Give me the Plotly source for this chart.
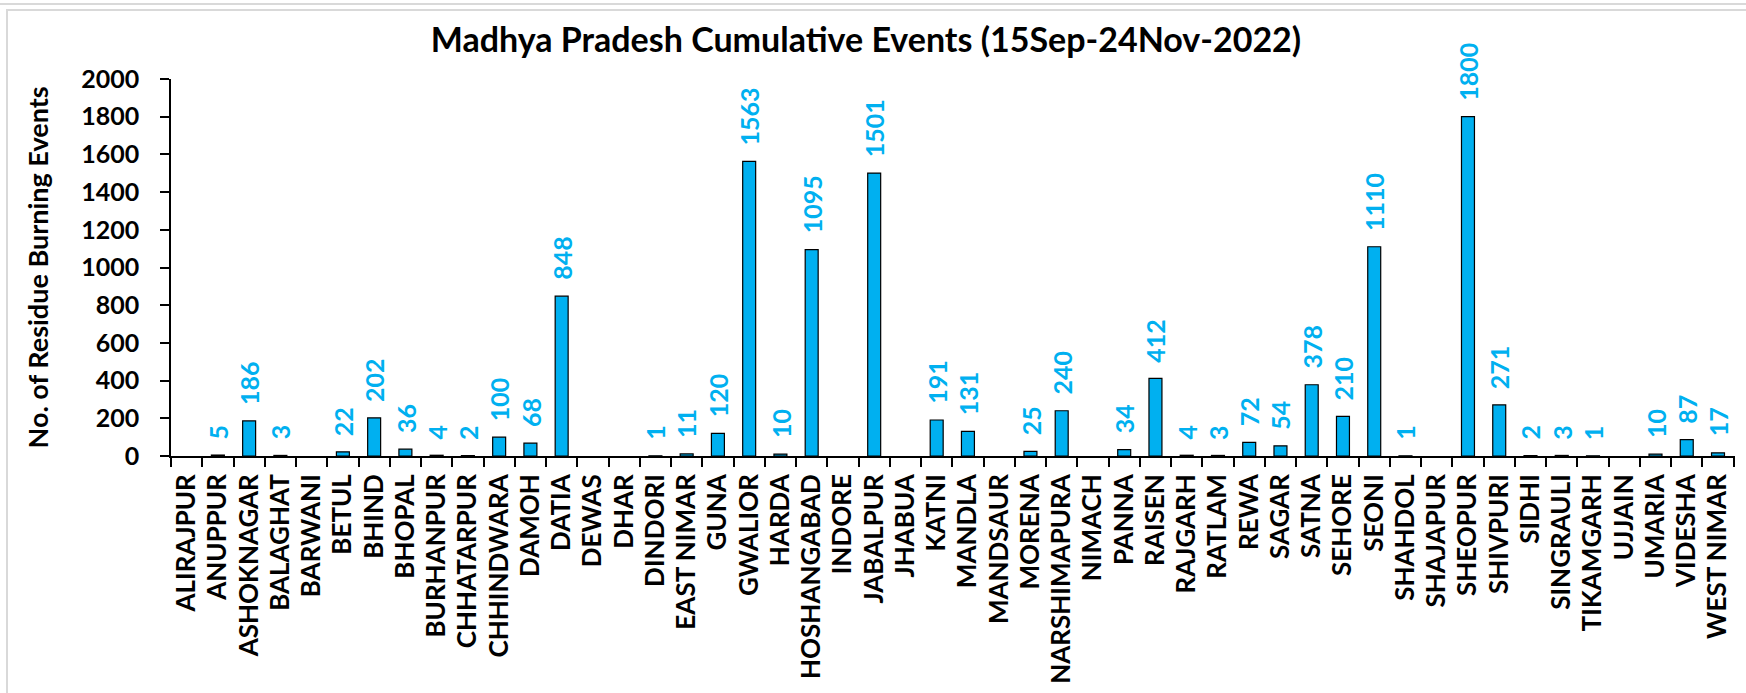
import plotly.graph_objects as go

# District-wise cumulative residue burning events
districts = [
    "ALIRAJPUR", "ANUPPUR", "ASHOKNAGAR", "BALAGHAT", "BARWANI", "BETUL", "BHIND",
    "BHOPAL", "BURHANPUR", "CHHATARPUR", "CHHINDWARA", "DAMOH", "DATIA", "DEWAS",
    "DHAR", "DINDORI", "EAST NIMAR", "GUNA", "GWALIOR", "HARDA", "HOSHANGABAD",
    "INDORE", "JABALPUR", "JHABUA", "KATNI", "MANDLA", "MANDSAUR", "MORENA",
    "NARSHIMAPURA", "NIMACH", "PANNA", "RAISEN", "RAJGARH", "RATLAM", "REWA",
    "SAGAR", "SATNA", "SEHORE", "SEONI", "SHAHDOL", "SHAJAPUR", "SHEOPUR",
    "SHIVPURI", "SIDHI", "SINGRAULI", "TIKAMGARH", "UJJAIN", "UMARIA", "VIDESHA",
    "WEST NIMAR",
]
events = [
    None, 5, 186, 3, None, 22, 202,
    36, 4, 2, 100, 68, 848, None,
    None, 1, 11, 120, 1563, 10, 1095,
    None, 1501, None, 191, 131, None, 25,
    240, None, 34, 412, 4, 3, 72,
    54, 378, 210, 1110, 1, None, 1800,
    271, 2, 3, 1, None, 10, 87,
    17,
]
y_ticks = list(range(0, 2001, 200))

W, H = 1746, 693
L, R, T, B = 171, 11, 79, 237
pw, ph = W - L - R, H - T - B

FONT = "Lato"
BLUE = "#00B0F0"

fig = go.Figure()
fig.add_trace(go.Bar(
    x=districts,
    y=events,
    marker=dict(color=BLUE, line=dict(color="black", width=1.2)),
    hoverinfo="x+y",
))

# value labels above each bar, rotated
annotations = []
for d, v in zip(districts, events):
    if v is None:
        continue
    annotations.append(dict(
        x=d, y=v, xref="x", yref="y",
        text=str(v), showarrow=False, textangle=-90,
        xanchor="center", yanchor="bottom", yshift=14,
        font=dict(family=FONT, size=25, color=BLUE, weight="bold"),
    ))

# y-axis title
annotations.append(dict(
    x=(37 - L) / pw, y=0.5, xref="paper", yref="paper",
    text="No. of Residue Burning Events", showarrow=False, textangle=-90,
    xanchor="center", yanchor="middle",
    font=dict(family=FONT, size=27, color="black", weight="bold"),
))

def px_x(v):
    return (v - L) / pw

def px_y(v):
    return 1 - (v - T) / ph

shapes = [
    # outer chart frame
    dict(type="rect", xref="paper", yref="paper",
         x0=px_x(7), x1=px_x(W + 20), y0=px_y(H + 20), y1=px_y(10),
         line=dict(color="#D9D9D9", width=2), fillcolor="rgba(0,0,0,0)", layer="below"),
    dict(type="line", xref="paper", yref="paper",
         x0=px_x(-5), x1=px_x(W + 5), y0=px_y(4), y1=px_y(4),
         line=dict(color="#D9D9D9", width=2), layer="below"),
]

fig.update_layout(
    width=W, height=H,
    margin=dict(l=L, r=R, t=T, b=B, autoexpand=False),
    paper_bgcolor="white", plot_bgcolor="white",
    bargap=0.585,
    showlegend=False,
    title=dict(
        text="Madhya Pradesh Cumulative Events (15Sep-24Nov-2022)",
        x=866 / W, xanchor="center", xref="container",
        y=1 - 40 / H, yanchor="middle", yref="container",
        font=dict(family=FONT, size=34, color="black", weight="bold"),
    ),
    xaxis=dict(
        type="category",
        tickson="boundaries",
        ticks="outside", ticklen=9, tickwidth=1.5, tickcolor="black",
        showline=True, linecolor="black", linewidth=1.5,
        showgrid=False, zeroline=False,
        tickangle=-90, ticklabelstandoff=6,
        tickfont=dict(family=FONT, size=26, color="black", weight="bold"),
        automargin=False,
    ),
    yaxis=dict(
        range=[0, 2000],
        tickvals=y_ticks,
        ticktext=[str(t) for t in y_ticks],
        ticks="outside", ticklen=9, tickwidth=1.5, tickcolor="black",
        showline=True, linecolor="black", linewidth=1.5,
        showgrid=False, zeroline=False,
        ticklabelstandoff=16,
        tickfont=dict(family=FONT, size=25, color="black", weight="bold"),
        automargin=False,
    ),
    annotations=annotations,
    shapes=shapes,
)

fig.write_html("out.html")
